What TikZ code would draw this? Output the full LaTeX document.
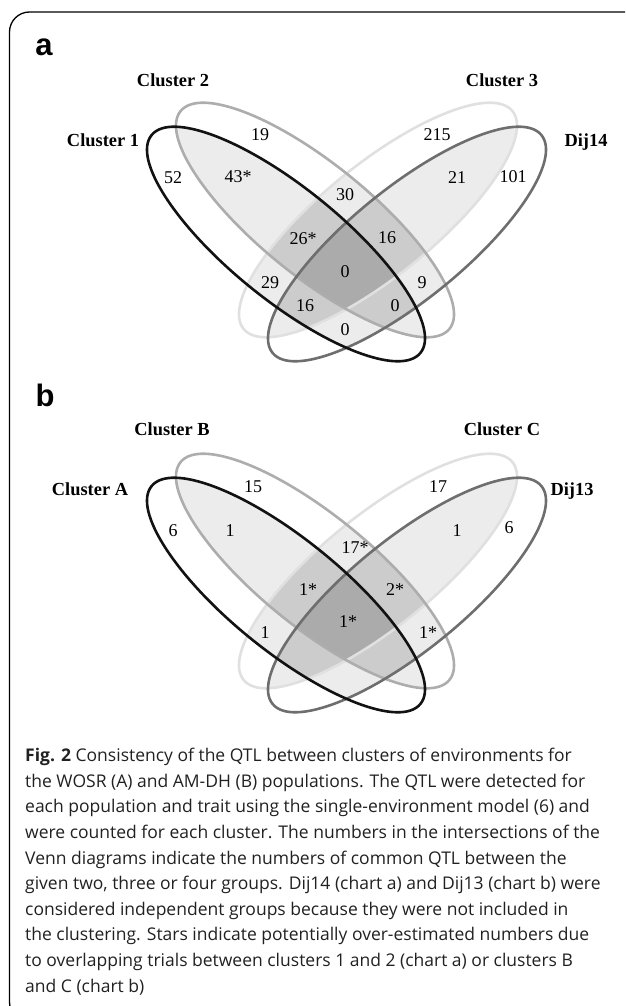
\documentclass[tikz,border=0pt]{standalone}
\usepackage{fontspec}
\setmainfont{Liberation Serif}
\newfontfamily\capfont{Open Sans}
\newfontfamily\panelfont{Liberation Sans}
\usepackage{tikz}

\definecolor{pairgray}{gray}{0.925}
\definecolor{triplegray}{gray}{0.80}
\definecolor{quadgray}{gray}{0.67}
\definecolor{ringone}{gray}{0.07}
\definecolor{ringtwo}{gray}{0.68}
\definecolor{ringthree}{gray}{0.88}
\definecolor{ringfour}{gray}{0.43}
\definecolor{captext}{gray}{0.13}

\tikzset{
  venn1/.style={shift={(286,244)},rotate=-39},
  venn2/.style={shift={(315,220)},rotate=-39},
  venn3/.style={shift={(378,220)},rotate=39},
  venn4/.style={shift={(407,244)},rotate=39},
  ring/.style={line width=2.6pt},
  num/.style={font=\fontsize{18}{18}\selectfont, inner sep=0pt, text depth=0pt},
  setlabel/.style={font=\bfseries\fontsize{18.4}{18.4}\selectfont, inner sep=0pt, text depth=0pt},
  panel/.style={font=\panelfont\bfseries\fontsize{31}{31}\selectfont, inner sep=0pt, text depth=0pt},
  caption/.style={anchor=north west, align=left, inner sep=0pt, text=captext,
    font=\capfont\fontsize{17.5}{25.6}\selectfont},
}

\newcommand{\vennshape}{(0,0) ellipse [x radius=173, y radius=56]}

%% one four-set diagram: grey by number of sets, then the rings
\newcommand{\drawvenn}{%
  \foreach \p/\q in {1/2,1/3,1/4,2/3,2/4,3/4}
  {
    \begin{scope}
      \clip[venn\p] \vennshape;
      \fill[pairgray,venn\q] \vennshape;
    \end{scope}
  }
  \foreach \p/\q/\r in {1/2/3,1/2/4,1/3/4,2/3/4}
  {
    \begin{scope}
      \clip[venn\p] \vennshape;
      \clip[venn\q] \vennshape;
      \fill[triplegray,venn\r] \vennshape;
    \end{scope}
  }
  \begin{scope}
    \clip[venn1] \vennshape;
    \clip[venn2] \vennshape;
    \clip[venn3] \vennshape;
    \fill[quadgray,venn4] \vennshape;
  \end{scope}
  \foreach \n/\c in {3/ringthree,2/ringtwo,4/ringfour,1/ringone}
    \draw[ring,\c,venn\n] \vennshape;
}

\begin{document}
\begin{tikzpicture}[x=1pt,y=-1pt]
  \useasboundingbox (0,0) rectangle (625,1006);
  \clip (0,0) rectangle (625,1006);

  %% frame, cut by the page on the right and at the bottom
  \draw[line width=1.3pt, rounded corners=20pt] (9.5,12) rectangle (660,1022);

  %% chart a
  \node[panel] (panela) at (44,47) {a};
  \drawvenn
  \node[setlabel] (clusterone) at (103,140) {Cluster 1};
  \node[setlabel] (clustertwo) at (173,80) {Cluster 2};
  \node[setlabel] (clusterthree) at (502,80) {Cluster 3};
  \node[setlabel] (dijfourteen) at (586,140) {Dij14};
  \foreach \x/\y/\val [count=\i] in {260/135/19, 437/135/215, 173/178/52,
      238/177/43*, 457/178/21, 513/177/101, 345/195/30, 303/239/26*,
      387/238/16, 345/272/0, 270/283/29, 422/283/9, 305/306/16,
      395/306/0, 345/330/0}
    \node[num] (anum\i) at (\x,\y) {\val};

  %% chart b
  \node[panel] (panelb) at (45,395) {b};
  \begin{scope}[shift={(0,351)}]
    \drawvenn
  \end{scope}
  \node[setlabel] (clustera) at (90,489) {Cluster A};
  \node[setlabel] (clusterb) at (172,429) {Cluster B};
  \node[setlabel] (clusterc) at (502,429) {Cluster C};
  \node[setlabel] (dijthirteen) at (572,489) {Dij13};
  \foreach \x/\y/\val [count=\i] in {253/487/15, 438/487/17, 173/531/6,
      230/531/1, 457/531/1, 509/528/6, 355/548/17*, 308/590/1*,
      395/590/2*, 348/622/1*, 265/633/1, 428/633/1*}
    \node[num] (bnum\i) at (\x,\y) {\val};

  %% caption
  \node[caption] (figcaption) at (25,748)
    {\textbf{Fig. 2} Consistency of the QTL between clusters of environments for\\
     the WOSR (A) and AM-DH (B) populations. The QTL were detected for\\
     each population and trait using the single-environment model (6) and\\
     were counted for each cluster. The numbers in the intersections of the\\
     Venn diagrams indicate the numbers of common QTL between the\\
     given two, three or four groups. Dij14 (chart a) and Dij13 (chart b) were\\
     considered independent groups because they were not included in\\
     the clustering. Stars indicate potentially over-estimated numbers due\\
     to overlapping trials between clusters 1 and 2 (chart a) or clusters B\\
     and C (chart b)};
\end{tikzpicture}
\end{document}
